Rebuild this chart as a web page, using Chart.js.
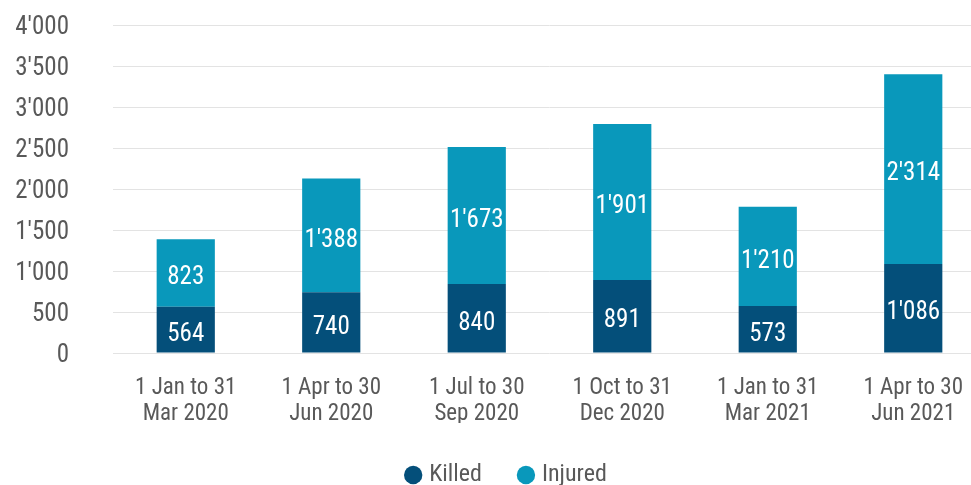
<!DOCTYPE html>
<html>
<head>
<meta charset="utf-8">
<script src="https://cdn.jsdelivr.net/npm/chart.js@4"></script>
<style>
  body { margin: 0; background: #fff; }
  #wrap { width: 971px; height: 485px; overflow: hidden; position: relative; }
</style>
</head>
<body>
<div id="wrap"><canvas id="chart" width="986" height="497"></canvas></div>
<script>
/* ---------- Data ---------- */
const periods = [
    ['1 Jan to 31', 'Mar 2020'],
    ['1 Apr to 30', 'Jun 2020'],
    ['1 Jul to 30', 'Sep 2020'],
    ['1 Oct to 31', 'Dec 2020'],
    ['1 Jan to 31', 'Mar 2021'],
    ['1 Apr to 30', 'Jun 2021']
];
const killed  = [564, 740, 840, 891, 573, 1086];
const injured = [823, 1388, 1673, 1901, 1210, 2314];
const yTicks  = { min: 0, max: 4000, step: 500 };

const FONT = "'Roboto Condensed', 'Liberation Sans Narrow', 'DejaVu Sans Condensed', Roboto, sans-serif";
const GREY = '#595959';

// 1'234 style thousands separator
function fmt(v) {
    return String(v).replace(/\B(?=(\d{3})+(?!\d))/g, "'");
}

/* ---------- White value labels + legend nudge ---------- */
const segmentLabels = {
    id: 'segmentLabels',
    afterLayout(chart) {
        // legend sits a bit right of the canvas centre in the original
        chart.legend.left += 15;
        chart.legend.right += 15;
    },
    afterDatasetsDraw(chart) {
        const ctx = chart.ctx;
        ctx.save();
        ctx.font = '25px ' + FONT;
        ctx.fillStyle = '#ffffff';
        ctx.textAlign = 'center';
        ctx.textBaseline = 'middle';
        chart.data.datasets.forEach((ds, i) => {
            const meta = chart.getDatasetMeta(i);
            meta.data.forEach((bar, j) => {
                const p = bar.getProps(['x', 'y', 'base'], true);
                ctx.fillText(fmt(ds.data[j]), p.x, (p.y + p.base) / 2 + 5);
            });
        });
        ctx.restore();
    }
};

new Chart(document.getElementById('chart'), {
    type: 'bar',
    data: {
        labels: periods,
        datasets: [
            { label: 'Killed',  data: killed,  backgroundColor: '#044f7a' },
            { label: 'Injured', data: injured, backgroundColor: '#0998bb' }
        ]
    },
    options: {
        responsive: false,
        animation: false,
        layout: { padding: { top: 25, left: 0, right: 0, bottom: 0 } },
        datasets: { bar: { categoryPercentage: 1, barPercentage: 0.4 } },
        scales: {
            x: {
                stacked: true,
                afterFit(scale) { scale.height = 70; },
                grid: { display: false, drawTicks: false },
                border: { display: false },
                ticks: { color: GREY, padding: 22, font: { family: FONT, size: 23, lineHeight: 1.13 }, maxRotation: 0 }
            },
            y: {
                stacked: true,
                min: yTicks.min, max: yTicks.max,
                afterFit(scale) {
                    scale.width = 113;
                    scale.paddingTop = 0;
                    scale.paddingBottom = 0;
                },
                grid: { color: '#e3e3e3', drawTicks: false },
                border: { display: false },
                ticks: { stepSize: yTicks.step, color: GREY, padding: 44, labelOffset: 3, font: { family: FONT, size: 25 }, callback: v => fmt(v) }
            }
        },
        plugins: {
            tooltip: { enabled: false },
            legend: {
                position: 'bottom',
                labels: {
                    usePointStyle: true, pointStyle: 'circle',
                    boxWidth: 8, boxHeight: 13, padding: 40,
                    color: GREY, font: { family: FONT, size: 24 }
                }
            }
        }
    },
    plugins: [segmentLabels]
});
</script>
</body>
</html>
